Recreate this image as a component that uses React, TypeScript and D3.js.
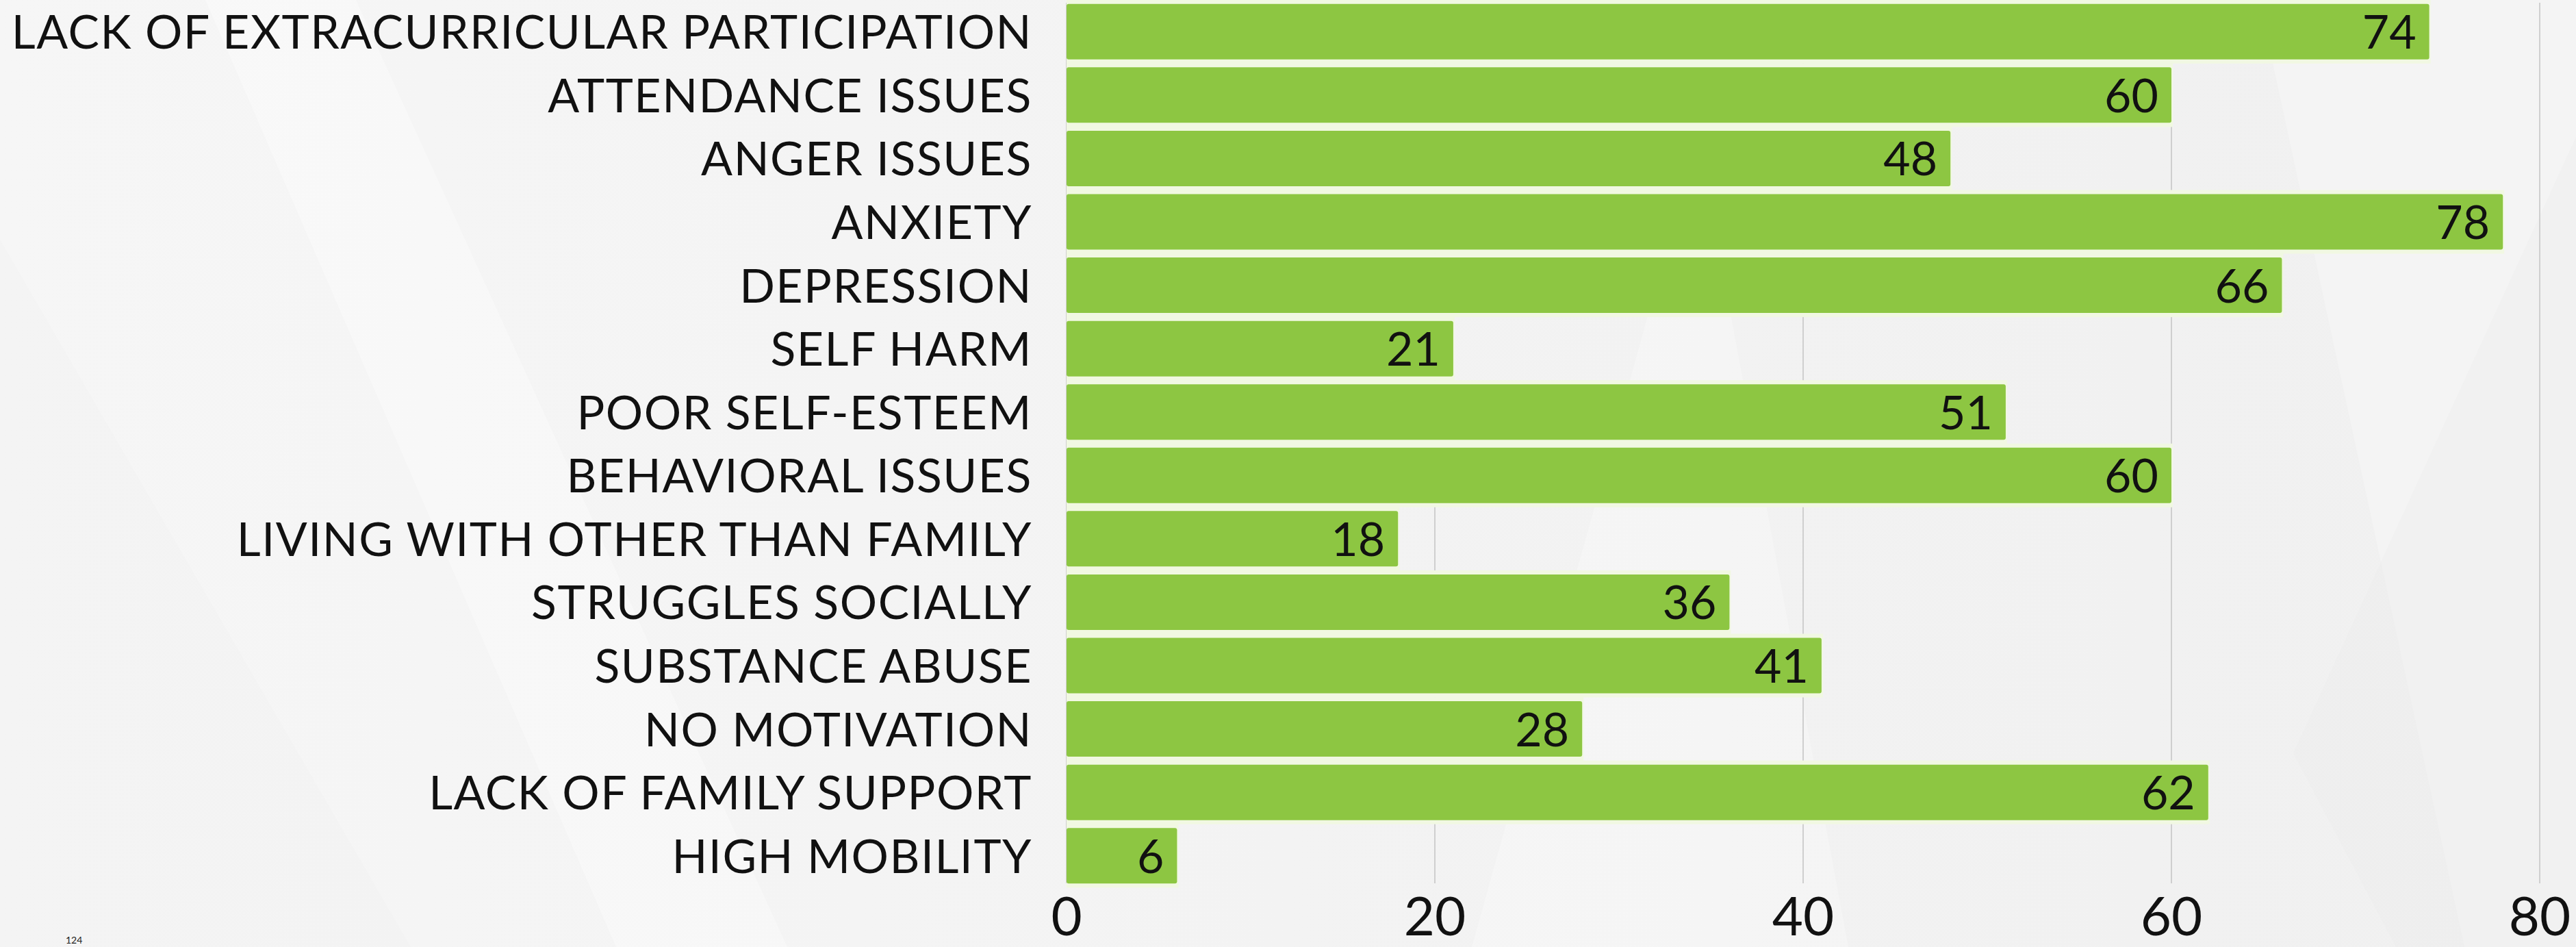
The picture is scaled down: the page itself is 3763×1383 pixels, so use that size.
import React from "react";
import * as d3 from "d3";

const categories: string[] = [
  "LACK OF EXTRACURRICULAR PARTICIPATION",
  "ATTENDANCE ISSUES",
  "ANGER ISSUES",
  "ANXIETY",
  "DEPRESSION",
  "SELF HARM",
  "POOR SELF-ESTEEM",
  "BEHAVIORAL ISSUES",
  "LIVING WITH OTHER THAN FAMILY",
  "STRUGGLES SOCIALLY",
  "SUBSTANCE ABUSE",
  "NO MOTIVATION",
  "LACK OF FAMILY SUPPORT",
  "HIGH MOBILITY",
];
const values: number[] = [74, 60, 48, 78, 66, 21, 51, 60, 18, 36, 41, 28, 62, 6];
const tickValues: number[] = [0, 20, 40, 60, 80];
const footnote = "124";

const W = 3763;
const H = 1383;
const X0 = 1558;
const X80 = 3710;
const FONT = "Lato, 'Open Sans', sans-serif";

export default function App() {
  const x = d3.scaleLinear().domain([0, 80]).range([X0, X80]);
  const y = d3
    .scaleBand<string>()
    .domain(categories)
    .range([0, 1296])
    .paddingInner(0.125)
    .paddingOuter(0.0625);
  const bw = y.bandwidth();
  const [yTop, yBot] = y.range();

  return (
    <svg
      width={W}
      height={H}
      style={{ position: "absolute", left: 0, top: 0, display: "block" }}
      fontFamily={FONT}
    >
      <defs>
        <linearGradient id="bg" x1="0" y1="0" x2="1" y2="0">
          <stop offset="0" stopColor="#f6f6f6" />
          <stop offset="0.5" stopColor="#f3f3f3" />
          <stop offset="1" stopColor="#f0f0f0" />
        </linearGradient>
      </defs>
      <rect x={0} y={0} width={W} height={H} fill="url(#bg)" />
      {/* faint background shapes */}
      <polygon points="300,0 520,0 1150,1383 900,1383" fill="#ffffff" opacity={0.3} />
      <polygon points="0,350 600,1383 0,1383" fill="#ededed" opacity={0.3} />
      <polygon points="2150,1383 2480,200 2700,1383" fill="#ffffff" opacity={0.25} />
      <polygon points="3300,0 3763,0 3763,1383 3600,1383" fill="#ffffff" opacity={0.25} />
      <polygon points="3350,1100 3763,200 3763,1383 3500,1383" fill="#ebebeb" opacity={0.35} />

      {/* gridlines */}
      {tickValues.map((t) => (
        <line
          key={"g" + t}
          x1={x(t)}
          x2={x(t)}
          y1={yTop + 4}
          y2={yBot - 6}
          stroke="#cfcfcf"
          strokeWidth={2}
        />
      ))}

      {/* bar halos */}
      {categories.map((c, i) => (
        <rect
          key={"h" + c}
          x={x(0)}
          y={(y(c) as number) - 6}
          width={x(values[i]) - x(0) + 2}
          height={bw + 12}
          fill="#f1f8e2"
        />
      ))}
      {/* bars */}
      {categories.map((c, i) => (
        <rect
          key={"b" + c}
          x={x(0)}
          y={y(c)}
          width={x(values[i]) - x(0)}
          height={bw}
          rx={3}
          fill="#8dc642"
        />
      ))}

      {/* category labels */}
      {categories.map((c) => (
        <text
          key={"l" + c}
          x={X0 - 50}
          y={(y(c) as number) + bw / 2 + 25}
          textAnchor="end"
          fontSize={68}
          letterSpacing={1.5}
          fill="#111"
        >
          {c}
        </text>
      ))}

      {/* value labels */}
      {categories.map((c, i) => (
        <text
          key={"v" + c}
          x={x(values[i]) - 19}
          y={(y(c) as number) + bw / 2 + 25}
          textAnchor="end"
          fontSize={68}
          fill="#111"
        >
          {values[i]}
        </text>
      ))}

      {/* x tick labels */}
      {tickValues.map((t) => (
        <text
          key={"t" + t}
          x={x(t)}
          y={1366}
          textAnchor="middle"
          fontSize={78}
          fill="#111"
        >
          {t}
        </text>
      ))}

      <text x={96} y={1378} fontSize={14} fill="#222">
        {footnote}
      </text>
    </svg>
  );
}
